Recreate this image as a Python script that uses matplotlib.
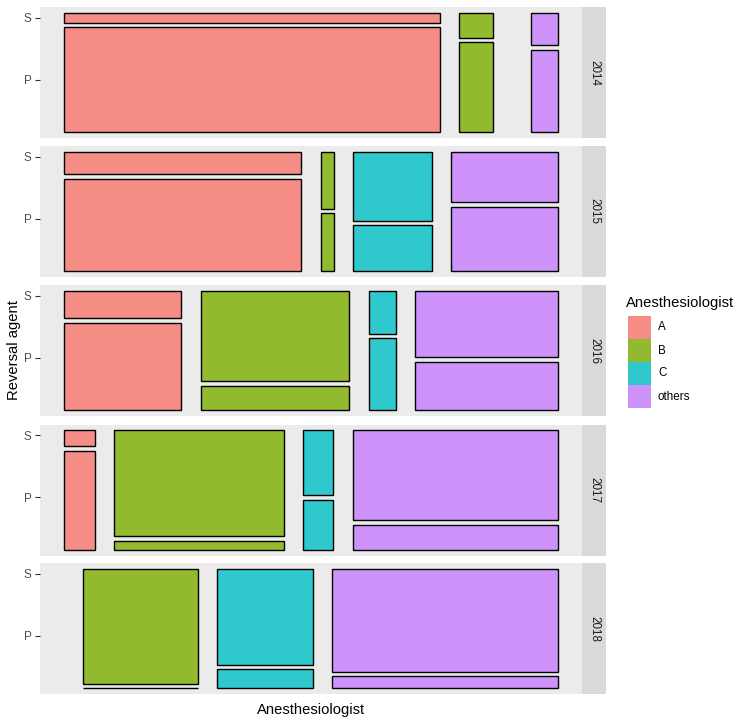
import matplotlib.pyplot as plt
from matplotlib.patches import Rectangle

# === Data ===
years = ["2014", "2015", "2016", "2017", "2018"]
groups = ["A", "B", "C", "others"]

# share of cases per anesthesiologist within each year (%)
share_A = [86.2, 54.4, 26.9, 7.1, 0.0]
share_B = [7.7, 3.05, 34.1, 38.8, 26.3]
share_C = [0.0, 18.0, 6.2, 7.0, 21.9]
share_others = [6.1, 24.55, 32.8, 47.1, 51.8]

# share of reversal agent "S" within each tile column (%)
pctS_A = [8.7, 19.8, 24.2, 13.9, 0.0]
pctS_B = [21.7, 49.6, 78.4, 92.0, 100.0]
pctS_C = [0.0, 59.9, 37.5, 56.7, 83.5]
pctS_others = [28.4, 44.0, 57.9, 78.2, 89.6]

colors = ["#F58D86", "#92BA2F", "#2FC8CC", "#CE92FB"]

shares = [share_A, share_B, share_C, share_others]
pcts = [pctS_A, pctS_B, pctS_C, pctS_others]

plt.rcParams["font.family"] = ["Liberation Sans", "DejaVu Sans"]

W, H = 749, 726
fig = plt.figure(figsize=(W / 100, H / 100), dpi=100)

def fx(x):
    return x / W

def fy(y):
    return 1 - y / H

gx = 0.039   # spacing between columns
gy = 0.038   # spacing between P and S

# y tick positions come from the first column of the first facet
s0 = pctS_A[0] / 100
p_top = (1 - gy) * (1 - s0)
tick_P = p_top / 2
tick_S = (p_top + gy + 1) / 2

panel_left, panel_right = 40, 582
panel_h = 131
tops = [7, 146, 285, 424.5, 563]

for i, yr in enumerate(years):
    top = tops[i]
    ax = fig.add_axes([fx(panel_left), fy(top + panel_h),
                       fx(panel_right - panel_left), panel_h / H])
    ax.set_facecolor("#EBEBEB")
    for sp in ax.spines.values():
        sp.set_visible(False)

    x0 = 0.0
    avail = 1 - 3 * gx
    for j, g in enumerate(groups):
        w = shares[j][i] / 100 * avail
        s = pcts[j][i] / 100
        if w > 0:
            hP = (1 - gy) * (1 - s)
            ax.add_patch(Rectangle((x0, 0), w, hP, facecolor=colors[j],
                                   edgecolor="black", lw=1.0))
            ax.add_patch(Rectangle((x0, hP + gy), w, 1 - hP - gy,
                                   facecolor=colors[j], edgecolor="black", lw=1.0))
        x0 += w + gx

    ax.set_xlim(-0.049, 1.049)
    ax.set_ylim(-0.046, 1.046)
    ax.set_xticks([])
    ax.set_yticks([tick_P, tick_S])
    ax.set_yticklabels(["P", "S"])
    ax.tick_params(axis="y", length=3.6, width=0.8, color="#333333",
                   labelcolor="#4D4D4D", labelsize=8.4, pad=2.4)

    # strip on the right
    fig.add_artist(Rectangle((fx(panel_right), fy(top + panel_h)),
                             fx(606) - fx(panel_right), panel_h / H,
                             transform=fig.transFigure, facecolor="#D9D9D9",
                             edgecolor="none"))
    fig.text(fx(594), fy(top + panel_h / 2), yr, rotation=-90,
             ha="center", va="center", fontsize=8.4, color="#1A1A1A")

# axis titles
fig.text(fx(311), fy(710), "Anesthesiologist", ha="center", va="center",
         fontsize=10.6, color="black")
fig.text(fx(14), fy(350), "Reversal agent", ha="center", va="center",
         rotation=90, fontsize=10.6, color="black")

# legend
fig.text(fx(626), fy(303), "Anesthesiologist", ha="left", va="center",
         fontsize=10.6, color="black")
for j, g in enumerate(groups):
    ky = 316 + 23 * j
    fig.add_artist(Rectangle((fx(628), fy(ky + 23)), 23 / W, 23 / H,
                             transform=fig.transFigure, facecolor=colors[j],
                             edgecolor="none"))
    fig.text(fx(658), fy(ky + 11.5), g, ha="left", va="center",
             fontsize=8.4, color="black")

plt.savefig("out.png", dpi=100)
